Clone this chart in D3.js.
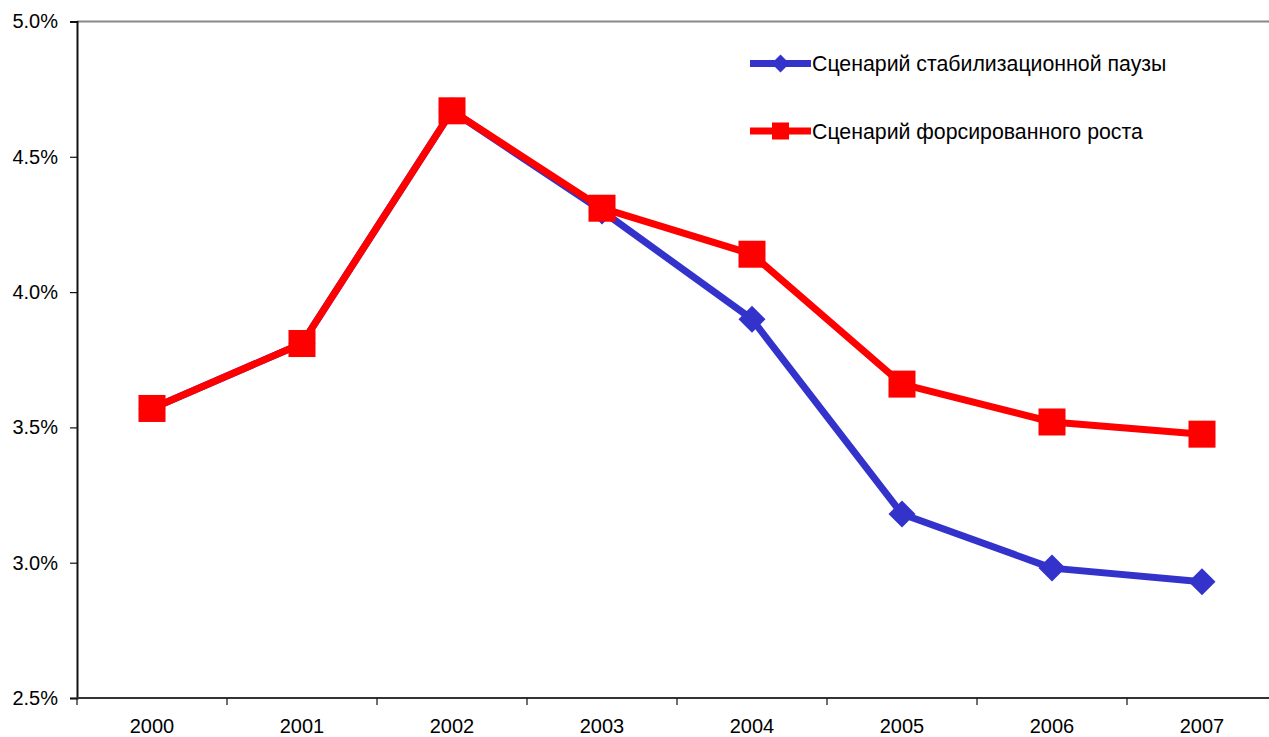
<!DOCTYPE html>
<html>
<head>
<meta charset="utf-8">
<script src="https://cdn.jsdelivr.net/npm/d3@7"></script>
<style>
  html, body { margin: 0; padding: 0; background: #fff; }
  svg { display: block; font-family: Arial, "Liberation Sans", sans-serif; }
</style>
</head>
<body>
<svg id="chart" width="1269" height="737"></svg>
<script>
// Years on the horizontal axis
const years = ["2000", "2001", "2002", "2003", "2004", "2005", "2006", "2007"];

// Scenario values, percent
const stabilization = [3.57, 3.81, 4.67, 4.30, 3.90, 3.18, 2.98, 2.93];
const accelerated   = [3.57, 3.81, 4.67, 4.31, 4.14, 3.66, 3.52, 3.475];

const seriesNames = ["Сценарий стабилизационной паузы", "Сценарий форсированного роста"];
const yTicks = [2.5, 3.0, 3.5, 4.0, 4.5, 5.0];

const svg = d3.select("#chart");
const plotLeft = 77, plotRight = 1277, plotTop = 21.5, plotBottom = 698;

const x = d3.scaleBand().domain(years).range([plotLeft, plotRight]);
const y = d3.scaleLinear().domain([2.5, 5.0]).range([plotBottom, plotTop]);

// plot frame: grey top edge
svg.append("line")
  .attr("x1", plotLeft).attr("x2", 1269)
  .attr("y1", plotTop).attr("y2", plotTop)
  .attr("stroke", "#888").attr("stroke-width", 2);

// y axis
const yAxis = svg.append("g")
  .attr("transform", `translate(${plotLeft},0)`)
  .call(d3.axisLeft(y).tickValues(yTicks).tickSize(7).tickPadding(12)
    .tickFormat(d => d3.format(".1f")(d) + "%"));
yAxis.select(".domain").attr("stroke", "#111").attr("stroke-width", 2);
yAxis.selectAll(".tick line").attr("stroke", "#111").attr("stroke-width", 1.2);
yAxis.selectAll(".tick text").attr("font-size", 20).attr("fill", "#000")
  .attr("font-family", "Arial, 'Liberation Sans', sans-serif");

// x axis with ticks between categories
const xAxisG = svg.append("g").attr("transform", `translate(0,${plotBottom})`);
xAxisG.append("line")
  .attr("x1", plotLeft).attr("x2", 1269)
  .attr("y1", 0).attr("y2", 0)
  .attr("stroke", "#333").attr("stroke-width", 2);
const boundaries = years.map(d => x(d)).concat([x(years[years.length - 1]) + x.bandwidth()]);
xAxisG.selectAll(".btick").data(boundaries).join("line")
  .attr("x1", d => d).attr("x2", d => d)
  .attr("y1", 0).attr("y2", 7)
  .attr("stroke", "#111").attr("stroke-width", 1.2);
xAxisG.selectAll(".ylabel").data(years).join("text")
  .attr("x", d => x(d) + x.bandwidth() / 2)
  .attr("y", 35)
  .attr("text-anchor", "middle")
  .attr("font-size", 20)
  .attr("fill", "#000")
  .text(d => d);

const cx = d => x(d) + x.bandwidth() / 2;
const line = d3.line().x(d => cx(d.year)).y(d => y(d.v));

const blueColor = "#3333CC", redColor = "#FF0000";
const blueData = years.map((yr, i) => ({ year: yr, v: stabilization[i] }));
const redData = years.map((yr, i) => ({ year: yr, v: accelerated[i] }));

const diamond = (px, py, r) => `M${px},${py - r}L${px + r},${py}L${px},${py + r}L${px - r},${py}Z`;

// stabilization scenario
svg.append("path").datum(blueData)
  .attr("d", line).attr("fill", "none")
  .attr("stroke", blueColor).attr("stroke-width", 7).attr("stroke-linejoin", "round");
svg.selectAll(".bm").data(blueData).join("path")
  .attr("d", d => diamond(cx(d.year), y(d.v), 13.5))
  .attr("fill", blueColor);

// accelerated growth scenario
svg.append("path").datum(redData)
  .attr("d", line).attr("fill", "none")
  .attr("stroke", redColor).attr("stroke-width", 7).attr("stroke-linejoin", "round");
svg.selectAll(".rm").data(redData).join("rect")
  .attr("x", d => cx(d.year) - 13.5).attr("y", d => y(d.v) - 13.5)
  .attr("width", 27).attr("height", 27)
  .attr("fill", redColor);

// legend
const legend = svg.append("g");
const legendRows = [
  { name: seriesNames[0], color: blueColor, shape: "diamond", yy: 63.5 },
  { name: seriesNames[1], color: redColor, shape: "square", yy: 131 }
];
legendRows.forEach(r => {
  legend.append("line")
    .attr("x1", 750).attr("x2", 811).attr("y1", r.yy).attr("y2", r.yy)
    .attr("stroke", r.color).attr("stroke-width", 7);
  if (r.shape === "diamond") {
    legend.append("path").attr("d", diamond(780.5, r.yy, 9)).attr("fill", r.color);
  } else {
    legend.append("rect").attr("x", 772).attr("y", r.yy - 8.5)
      .attr("width", 17).attr("height", 17).attr("fill", r.color);
  }
  legend.append("text")
    .attr("x", 812).attr("y", r.yy + 7.5)
    .attr("font-size", 21.3).attr("fill", "#000")
    .text(r.name);
});
</script>
</body>
</html>
